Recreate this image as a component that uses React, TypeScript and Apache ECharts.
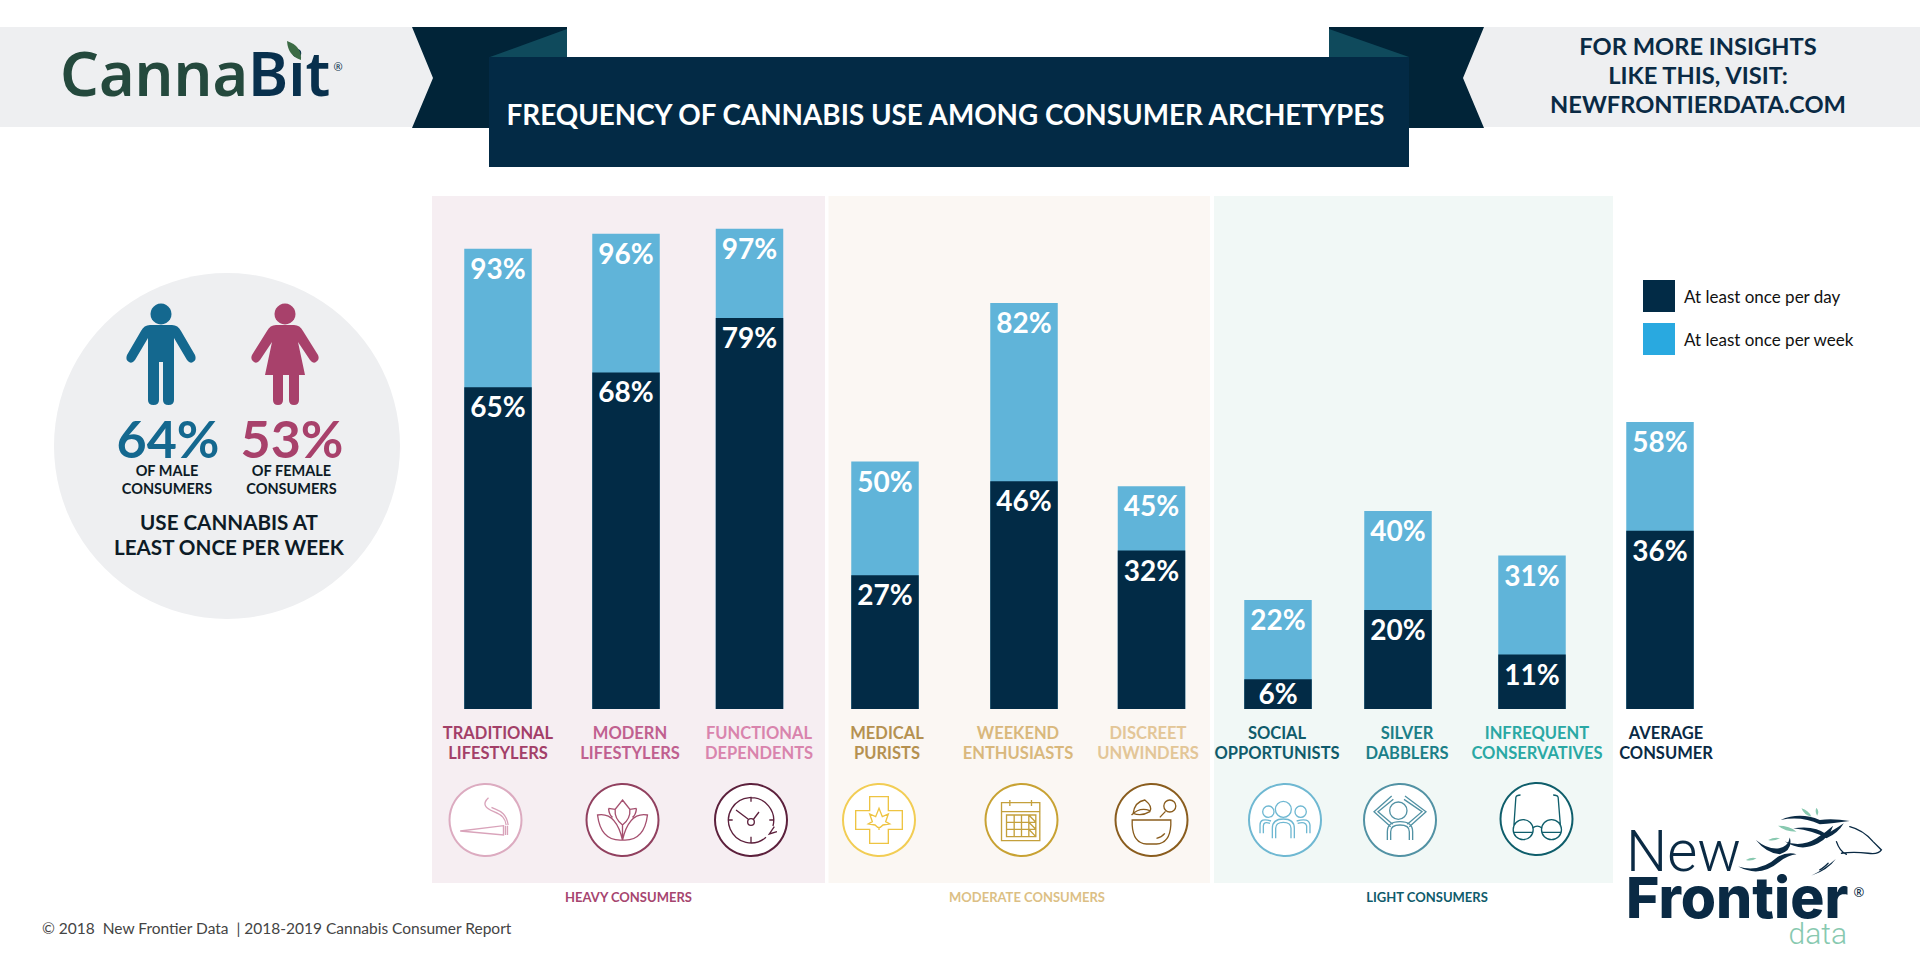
import React, { useEffect, useRef } from "react";
import * as echarts from "echarts";

const categories = [
  "TRADITIONAL LIFESTYLERS", "MODERN LIFESTYLERS", "FUNCTIONAL DEPENDENTS",
  "MEDICAL PURISTS", "WEEKEND ENTHUSIASTS", "DISCREET UNWINDERS",
  "SOCIAL OPPORTUNISTS", "SILVER DABBLERS", "INFREQUENT CONSERVATIVES", "AVERAGE CONSUMER",
];
const atLeastDaily = [65, 68, 79, 27, 46, 32, 6, 20, 11, 36];
const atLeastWeekly = [93, 96, 97, 50, 82, 45, 22, 40, 31, 58];
const seriesNames = ["At least once per day", "At least once per week"];
const groupNames = ["HEAVY CONSUMERS", "MODERATE CONSUMERS", "LIGHT CONSUMERS"];

// layout, on a value x axis that runs 0-1920
const barSlots = [498, 626, 749.5, 885, 1024, 1151.5, 1278, 1398, 1532, 1660];
const labelCentres = [498, 630, 759, 887, 1018, 1148, 1277, 1407, 1537, 1666];
const labelColours = ["#a33f68", "#c0608f", "#d984ad", "#b59150", "#d9b87c", "#e3c697", "#0f5b6b", "#1b7f88", "#2aa8a4", "#0a2a44"];

const NAVY = "#022b46";
const SKY = "#60b4d9";
const FONT = "Lato";

const iconPaths: Record<string, string> = {
  joint: "M-76 33 L54 17 L54 45 Z M60 17 L60 45 M66 17 L66 45 M9 -67 C-12 -48 0 -35 25 -25 C50 -15 60 -5 62 15 M18 -38 C35 -28 62 -28 68 15",
  lotus: "M0 -60 L22 -32 Q25 -5 0 15 Q-25 -5 -22 -32 Z M-75 -15 Q-20 -25 0 60 Q-65 65 -75 -15 Z M75 -15 Q20 -25 0 60 Q65 65 75 -15 Z M-42 -35 L-22 -32 M42 -35 L22 -32 M-42 -35 Q-40 -15 -30 -8 M42 -35 Q40 -15 30 -8 M0 15 V60",
  clock: "M45 52 A68 68 0 1 1 66 18 M70 20 L55 42 L78 35 M0 -70 V-55 M-70 0 H-55 M70 0 H55 M0 50 V68 M-45 -30 L-9 -3 M24 -24 L8 -3 M10 6 A10 10 0 1 1 -10 6 A10 10 0 1 1 10 6",
  cross: "M-28 -70 H28 V-28 H70 V28 H28 V70 H-28 V28 H-70 V-28 H-28 Z M0 -35 L10 -10 L28 -18 L20 5 L32 12 L12 15 L4 22 H-4 L-12 15 L-32 12 L-20 5 L-28 -18 L-10 -10 Z M0 20 V30",
  calendar: "M-60 -52 H55 V62 H-60 Z M-60 -25 H55 M-35 -60 V-42 M30 -60 V-42 M-45 -15 H43 V50 H-45 Z M-45 7 H43 M-45 28 H43 M-22 -15 V50 M0 -15 V50 M22 -15 V50 M22 -15 L43 7 M22 7 L43 28 M22 28 L43 50",
  mortar: "M-58 0 H58 V15 Q55 70 15 72 H-15 Q-55 70 -58 15 Z M25 -8 L42 -26 M73 -42 A18 18 0 1 1 37 -42 A18 18 0 1 1 73 -42 M-55 -20 Q-50 -55 -20 -60 Q5 -40 -5 -25 Q-30 -10 -55 -20 Z M-60 -15 Q-35 -40 -5 -28 M15 55 Q30 52 40 40",
  people: "M19 -32 A24 24 0 1 1 -29 -32 A24 24 0 1 1 19 -32 M-33 -25 A17 17 0 1 1 -67 -25 A17 17 0 1 1 -33 -25 M64 -25 A17 17 0 1 1 30 -25 A17 17 0 1 1 64 -25 M-38 55 V25 Q-38 -3 -5 -3 Q28 -3 28 25 V55 M-28 55 V25 Q-28 7 -5 7 Q18 7 18 25 V55 M-75 40 V15 Q-75 -8 -42 3 M-65 40 V18 Q-65 3 -45 10 M75 40 V15 Q72 -8 35 3 M65 40 V18 Q62 3 38 10",
  person: "M21 -28 A26 26 0 1 1 -31 -28 A26 26 0 1 1 21 -28 M-25 -72 L-78 -25 L-28 20 M-20 -62 L-66 -25 L-22 13 M15 -72 L78 -25 L28 20 M12 -62 L66 -25 L22 13 M-38 60 V35 Q-38 5 0 5 Q38 5 38 35 V60 M-28 60 V35 Q-28 15 0 15 Q28 15 28 35 V60",
  glasses: "M-10 32 A30 30 0 1 1 -70 32 A30 30 0 1 1 -10 32 M75 32 A30 30 0 1 1 15 32 A30 30 0 1 1 75 32 M-12 28 Q2 15 17 28 M-68 22 L-62 -65 Q-60 -72 -48 -72 M72 22 L65 -65 Q63 -72 50 -72 M-70 40 H-10 M15 40 H75",
};
const iconPlacement = [
  { name: "joint", x: 485.5, y: 820, ring: "#dcabc0", ink: "#d9a3ba" },
  { name: "lotus", x: 622.5, y: 820, ring: "#91405f", ink: "#a5506f" },
  { name: "clock", x: 751, y: 820, ring: "#5c203c", ink: "#5c203c" },
  { name: "cross", x: 879, y: 820, ring: "#f2cd54", ink: "#eec442" },
  { name: "calendar", x: 1021.5, y: 820, ring: "#c8a233", ink: "#c4a03c" },
  { name: "mortar", x: 1151.5, y: 820, ring: "#8a5d1e", ink: "#8a5d1e" },
  { name: "people", x: 1285, y: 820, ring: "#6fb8d2", ink: "#6fb8d2" },
  { name: "person", x: 1400, y: 820, ring: "#5292a4", ink: "#5292a4" },
  { name: "glasses", x: 1536.5, y: 819, ring: "#0f5e6b", ink: "#0f5e6b" },
];

const malePath = "M150 325 H172 Q178 325 181 331 L195 355 Q197 360 193 362 Q190 364 187 360 L174 338 L174 400 Q174 405 168.5 405 Q163 405 163 400 V362 H159 V400 Q159 405 153.5 405 Q148 405 148 400 V338 L135 360 Q132 364 129 362 Q125 360 127 355 L141 331 Q144 325 150 325 Z";
const femalePath = "M276 325 H294 Q300 325 303 331 L318 355 Q320 360 316 362 Q313 364 310 360 L298 342 L305 375 H299 V400 Q299 405 294 405 Q289 405 289 400 V375 H283 V400 Q283 405 278 405 Q273 405 273 400 V375 H265 L272 342 L260 360 Q257 364 254 362 Q250 360 252 355 L267 331 Q270 325 276 325 Z";
const maneShapes = "M482 75 Q540 50 600 75 Q640 70 690 78 Q640 85 600 88 Q545 62 482 75 Z M520 100 Q585 90 620 118 Q650 100 672 85 Q655 115 620 130 Q585 108 520 100 Z M408 135 Q445 165 478 160 Q505 155 510 128 Q520 165 480 178 Q440 175 408 135 Z M495 140 Q545 158 590 130 Q620 110 640 92 Q630 125 595 145 Q545 172 495 140 Z M355 215 Q420 235 475 185 Q505 170 530 178 Q505 180 480 200 Q420 250 355 215 Z M575 242 Q610 225 648 192 Q625 225 575 242 Z";
const horseHead = "M690 95 Q730 105 760 140 L785 165 Q775 180 745 175 Q700 170 665 175 M650 140 Q660 170 680 178 M625 205 Q610 220 600 225";
const horseLeaves = "M545 40 Q565 45 575 65 Q552 60 545 40 Z M590 38 Q600 50 592 62 Q584 50 590 38 Z M475 92 Q510 92 530 110 Q495 110 475 92 Z M445 135 Q465 125 480 130 Q460 140 445 135 Z M378 195 Q395 185 410 190 Q395 200 378 195 Z";
const brandLeaf = "M287 41 Q302 46 301 60 Q288 56 287 41 Z";

Object.entries(iconPaths).forEach(([k, d]) => echarts.graphic.registerShape("icon_" + k, echarts.graphic.extendPath(d, {})));
[["male", malePath], ["female", femalePath], ["mane", maneShapes], ["horseHead", horseHead], ["horseLeaves", horseLeaves], ["brandLeaf", brandLeaf]].forEach(([k, d]) =>
  echarts.graphic.registerShape(k, echarts.graphic.extendPath(d, {})),
);

function txt(text: string, x: number, y: number, fontSize: number, fill: string, fontWeight: any = 700, extra: any = {}) {
  const { align = "center", fontFamily = FONT, lineHeight } = extra;
  return {
    type: "text", silent: true,
    style: { text, x, y, fill, fontSize, fontWeight, fontFamily, align, verticalAlign: "middle", textAlign: align, textVerticalAlign: "middle", lineHeight },
  };
}
const rect = (x: number, y: number, width: number, height: number, fill: string) => ({ type: "rect", silent: true, shape: { x, y, width, height }, style: { fill } });
const poly = (points: number[][], fill: string) => ({ type: "polygon", silent: true, shape: { points }, style: { fill } });

function buildGraphics() {
  const out: any[] = [
    rect(0, 27, 436, 100, "#eeeff1"),
    rect(1460, 27, 460, 100, "#eeeff1"),
    poly([[412, 27], [567, 27], [567, 128], [412, 128], [433, 78]], "#012438"),
    poly([[1329, 27], [1484, 27], [1463, 78], [1484, 128], [1329, 128]], "#012438"),
    poly([[490, 57], [567, 29], [567, 57]], "#0f4a5c"),
    poly([[1329, 29], [1409, 57], [1329, 57]], "#0f4a5c"),
    rect(489, 57, 920, 110, "#032a45"),
    txt("FREQUENCY OF CANNABIS USE AMONG CONSUMER ARCHETYPES", 945.5, 114, 27.8, "#ffffff"),
    txt("FOR MORE INSIGHTS\nLIKE THIS, VISIT:\nNEWFRONTIERDATA.COM", 1698, 75, 23.7, "#0a2a44", 700, { lineHeight: 29 }),
    // brand
    {
      type: "text", silent: true,
      style: {
        text: "{a|Canna}{b|Bit}", x: 60, y: 72, align: "left", verticalAlign: "middle", textAlign: "left", textVerticalAlign: "middle",
        rich: {
          a: { fontFamily: "Noto Sans", fontSize: 61, fontWeight: 600, fill: "#24493d", color: "#24493d" },
          b: { fontFamily: "Noto Sans", fontSize: 61, fontWeight: 600, fill: "#08304d", color: "#08304d" },
        },
      },
    },
    { type: "brandLeaf", silent: true, style: { fill: "#3c6b45" } },
    txt("®", 338, 66, 11, "#08304d", 400, { fontFamily: "Noto Sans" }),
    // panels
    rect(432, 196, 393, 687, "#f6eef2"),
    rect(828.5, 196, 381.5, 687, "#fbf7f3"),
    rect(1214, 196, 399, 687, "#f1f8f6"),
    // gender circle
    { type: "circle", silent: true, shape: { cx: 227, cy: 446, r: 173 }, style: { fill: "#eeeff1" } },
    { type: "circle", silent: true, shape: { cx: 161, cy: 314, r: 10.5 }, style: { fill: "#14688f" } },
    { type: "male", silent: true, style: { fill: "#14688f" } },
    { type: "circle", silent: true, shape: { cx: 285, cy: 314, r: 10.5 }, style: { fill: "#a8416b" } },
    { type: "female", silent: true, style: { fill: "#a8416b" } },
    txt("64%", 168, 437.5, 52, "#14688f", 700, { lineHeight: 40 }),
    txt("53%", 292, 437.5, 52, "#a8416b", 700, { lineHeight: 40 }),
    txt("OF MALE\nCONSUMERS", 167, 479, 14.5, "#0d1b26", 700, { lineHeight: 18 }),
    txt("OF FEMALE\nCONSUMERS", 291.5, 479, 14.5, "#0d1b26", 700, { lineHeight: 18 }),
    txt("USE CANNABIS AT\nLEAST ONCE PER WEEK", 229, 534.5, 20.6, "#0d1b26", 700, { lineHeight: 25 }),
    // footer
    txt("© 2018  New Frontier Data  | 2018-2019 Cannabis Consumer Report", 42, 928, 15.5, "#444444", 400, { align: "left" }),
    txt(groupNames[0], 628.5, 897, 13, "#a6456f", 700),
    txt(groupNames[1], 1027, 897, 13, "#dcbf85", 700),
    txt(groupNames[2], 1427, 897, 13, "#0f5b6b", 700),
    // New Frontier logo
    txt("New", 1626, 851, 58, "#0a2a44", 300, { align: "left", fontFamily: "Roboto", lineHeight: 40 }),
    txt("Frontier", 1626, 897, 57, "#0a2a44", 800, { align: "left", fontFamily: "Inter", lineHeight: 40 }),
    txt("®", 1859, 892, 13, "#0a2a44", 400, { fontFamily: "Noto Sans", lineHeight: 12 }),
    txt("data", 1847, 933, 30, "#88c9b0", 300, { align: "right", fontFamily: "Roboto", lineHeight: 22 }),
    { type: "mane", silent: true, x: 1620, y: 795, scaleX: 1 / 3, scaleY: 1 / 3, style: { fill: "#0a2a44" } },
    { type: "horseHead", silent: true, x: 1620, y: 795, scaleX: 1 / 3, scaleY: 1 / 3, style: { fill: "none", stroke: "#0a2a44", lineWidth: 4, lineCap: "round" } },
    { type: "horseLeaves", silent: true, x: 1620, y: 795, scaleX: 1 / 3, scaleY: 1 / 3, style: { fill: "#88c9b0" } },
  ];
  categories.forEach((c, i) => {
    out.push(txt(c.replace(" ", "\n"), labelCentres[i], 743, 16.5, labelColours[i], 700, { lineHeight: 20.5 }));
  });
  iconPlacement.forEach((p) => {
    out.push({ type: "circle", silent: true, shape: { cx: p.x, cy: p.y, r: 36 }, style: { fill: "#ffffff", stroke: p.ring, lineWidth: 2 } });
    out.push({ type: "icon_" + p.name, silent: true, x: p.x, y: p.y, scaleX: 1 / 3, scaleY: 1 / 3, style: { fill: "none", stroke: p.ink, lineWidth: 4 } });
  });
  return out;
}

export default function App() {
  const ref = useRef<HTMLDivElement>(null);
  useEffect(() => {
    const chart = echarts.init(ref.current!, undefined, { renderer: "svg" });
    const barLabel = {
      show: true, position: "insideTop", distance: 5, color: "#ffffff", fontFamily: FONT, fontSize: 28, fontWeight: 700,
      formatter: (p: any) => p.value[1] + "%",
    };
    // a bar too short for the usual gap holds its label closer to its top
    const point = (v: number, i: number) => (v < 10 ? { value: [barSlots[i], v], label: { distance: 0 } } : [barSlots[i], v]);
    chart.setOption({
      animation: false,
      backgroundColor: "#ffffff",
      grid: { left: 0, right: 0, top: 214, bottom: 266 },
      xAxis: { type: "value", min: 0, max: 1920, show: false },
      yAxis: { type: "value", min: 0, max: 100, show: false },
      legend: {
        left: 1638, top: 275, orient: "vertical", icon: "rect", itemWidth: 32, itemHeight: 32, itemGap: 11, selectedMode: false,
        textStyle: { fontFamily: FONT, fontSize: 17, color: "#111111", padding: [0, 0, 0, 4] },
        data: [
          { name: seriesNames[0], itemStyle: { color: NAVY } },
          { name: seriesNames[1], itemStyle: { color: "#29a9e0" } },
        ],
      },
      graphic: { elements: buildGraphics() },
      series: [
        { name: seriesNames[1], type: "bar", barWidth: 67.5, barGap: "-100%", itemStyle: { color: SKY }, label: barLabel, data: atLeastWeekly.map(point) },
        { name: seriesNames[0], type: "bar", barWidth: 67.5, barGap: "-100%", itemStyle: { color: NAVY }, label: barLabel, data: atLeastDaily.map(point) },
      ],
    });
    return () => chart.dispose();
  }, []);
  return <div ref={ref} style={{ position: "fixed", left: 0, top: 0, width: 1920, height: 975 }} />;
}
